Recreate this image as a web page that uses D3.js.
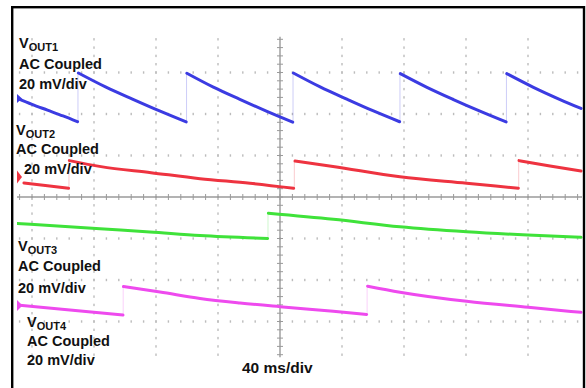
<!DOCTYPE html>
<html>
<head>
<meta charset="utf-8">
<script src="https://cdn.jsdelivr.net/npm/d3@7"></script>
<style>
  html, body { margin: 0; padding: 0; background: #fff; }
  svg { display: block; }
</style>
</head>
<body>
<svg id="chart" width="586" height="388"></svg>
<script>
// Four-channel scope capture: 40 ms/div time base, 20 mV/div AC-coupled outputs.
const timePerDiv = 40;   // ms per division
const voltsPerDiv = 20;  // mV per division
const channelNames = ["OUT1", "OUT2", "OUT3", "OUT4"];
const couplingLabel = "AC Coupled";
const scaleLabel = "20 mV/div";
const timeLabel = "40 ms/div";

// Ground reference of each channel, in divisions from screen centre
const channelPositions = [2.373, 0.482, -0.602, -2.614];

// Ripple samples per ramp: [time ms, ripple mV]
const vout1 = [
  [[-169.7, 0.2], [-160.0, -2.8], [-150.0, -5.6], [-140.0, -8.4], [-130.6, -11.2]],
  [[-130.1, 12.3], [-112.6, 5.6], [-95.2, -0.3], [-77.7, -6.0], [-60.5, -11.3]],
  [[-60.1, 12.2], [-43.0, 5.5], [-25.9, -0.4], [-8.8, -6.1], [8.2, -11.4]],
  [[8.6, 12.3], [25.9, 5.6], [43.1, -0.3], [60.3, -6.0], [77.2, -11.2]],
  [[77.6, 12.0], [94.8, 5.4], [111.9, -0.5], [129.0, -6.1], [145.9, -11.3]],
  [[146.3, 12.0], [163.5, 5.4], [180.7, -0.5], [194.2, -4.8]]
];
const vout2 = [
  [[-165.2, -2.9], [-150.0, -4.2], [-136.4, -5.4]],
  [[-135.9, 7.9], [-115.5, 5.0], [-83.2, 2.1], [-51.6, -0.8], [-19.4, -3.0], [8.8, -5.4]],
  [[9.7, 7.7], [34.2, 5.1], [77.4, 0.1], [120.4, -3.0], [153.8, -5.4]],
  [[154.2, 7.9], [174.2, 5.3], [194.2, 2.9]]
];
const vout3 = [
  [[-169.7, -0.7], [-116.1, -3.3], [-83.9, -4.8], [-51.6, -6.5], [-8.0, -7.9]],
  [[-7.5, 4.2], [34.4, 1.3], [77.4, -2.3], [120.4, -4.7], [159.9, -6.3], [194.2, -7.4]]
];
const vout4 = [
  [[-169.7, 0.2], [-135.5, -2.2], [-101.3, -4.6]],
  [[-101.0, 9.1], [-77.4, 6.5], [-51.6, 3.4], [-25.8, 1.2], [0.0, -0.6], [34.4, -2.8], [55.9, -4.3]],
  [[56.5, 9.3], [77.4, 6.4], [120.4, 2.0], [160.2, -0.9], [194.2, -3.3]]
];

const traces = [vout1, vout2, vout3, vout4];
const traceColors = ["#3b3be2", "#ee3340", "#3fe23a", "#ee4aee"];
const markerSizes = [[5, 4.5], [5, 6.5], null, [5.5, 5.5]];

// Screen geometry
const svg = d3.select("#chart");
const cx = 280, cy = 197, divX = 62, divY = 41.5;
const plotLeft = 17, plotRight = 583, plotTop = 33, plotBottom = 362;

const x = d3.scaleLinear()
  .domain([-5 * timePerDiv, 5 * timePerDiv])
  .range([cx - 5 * divX, cx + 5 * divX]);
const yDiv = d3.scaleLinear()
  .domain([-4, 4])
  .range([cy + 4 * divY, cy - 4 * divY]);

svg.append("rect").attr("width", 586).attr("height", 388).attr("fill", "#fff");

svg.append("defs").append("clipPath").attr("id", "screen")
  .append("rect")
  .attr("x", plotLeft).attr("y", plotTop)
  .attr("width", plotRight - plotLeft).attr("height", plotBottom - plotTop);

const grid = svg.append("g").attr("clip-path", "url(#screen)");
const dotColor = "#bcbcbc";

// Dotted graticule columns
const minorY = d3.range(-19, 20).map(m => m / 5);
const minorX = d3.range(-21, 25).map(j => j * timePerDiv / 5);
d3.range(-4, 5).filter(k => k !== 0).forEach(k => {
  grid.selectAll(null).data(minorY).join("rect")
    .attr("x", x(k * timePerDiv) - 0.7)
    .attr("y", d => yDiv(d) - 1.2)
    .attr("width", 1.4).attr("height", 2.4)
    .attr("fill", dotColor);
});
// Dotted graticule rows
d3.range(-3, 4).filter(k => k !== 0).forEach(k => {
  grid.selectAll(null).data(minorX).join("rect")
    .attr("x", d => x(d) - 0.7)
    .attr("y", yDiv(k) - 1.2)
    .attr("width", 1.4).attr("height", 2.4)
    .attr("fill", dotColor);
});

// Centre axes with minor ticks
const axisColor = "#9a9a9a";
grid.append("line")
  .attr("x1", x(0)).attr("x2", x(0))
  .attr("y1", yDiv(3.86)).attr("y2", yDiv(-3.86))
  .attr("stroke", axisColor).attr("stroke-width", 1.4);
grid.selectAll(null).data(minorY).join("line")
  .attr("x1", x(0) - 3).attr("x2", x(0) + 3)
  .attr("y1", d => yDiv(d)).attr("y2", d => yDiv(d))
  .attr("stroke", axisColor).attr("stroke-width", 1);
grid.append("line")
  .attr("x1", plotLeft).attr("x2", plotRight - 1)
  .attr("y1", yDiv(0)).attr("y2", yDiv(0))
  .attr("stroke", axisColor).attr("stroke-width", 1.4);
grid.selectAll(null).data(minorX).join("line")
  .attr("x1", d => x(d)).attr("x2", d => x(d))
  .attr("y1", yDiv(0) - 3).attr("y2", yDiv(0) + 3)
  .attr("stroke", axisColor).attr("stroke-width", 1);

// Traces
const traceLayer = svg.append("g").attr("clip-path", "url(#screen)");
traces.forEach((segments, ci) => {
  const pos = channelPositions[ci];
  const yOf = mv => yDiv(pos + mv / voltsPerDiv);
  const line = d3.line()
    .x(d => x(d[0]))
    .y(d => yOf(d[1]))
    .curve(d3.curveMonotoneX);
  const g = traceLayer.append("g");
  // faint vertical edges at each step
  segments.slice(1).forEach((seg, i) => {
    const prev = segments[i][segments[i].length - 1];
    const next = seg[0];
    g.append("line")
      .attr("x1", x((prev[0] + next[0]) / 2)).attr("x2", x((prev[0] + next[0]) / 2))
      .attr("y1", yOf(prev[1])).attr("y2", yOf(next[1]))
      .attr("stroke", traceColors[ci]).attr("stroke-width", 1)
      .attr("stroke-opacity", 0.25);
  });
  g.selectAll(null).data(segments).join("path")
    .attr("d", line)
    .attr("fill", "none")
    .attr("stroke", traceColors[ci])
    .attr("stroke-width", 3)
    .attr("stroke-linecap", "round")
    .attr("stroke-linejoin", "round");

  // ground-level marker
  const ms = markerSizes[ci];
  if (ms) {
    const y0 = yDiv(pos);
    g.append("path")
      .attr("d", `M${plotLeft},${y0 - ms[1]}L${plotLeft + ms[0]},${y0}L${plotLeft},${y0 + ms[1]}Z`)
      .attr("fill", traceColors[ci]);
  }
});

// Channel labels
const labelPlacement = [
  { x: 19, name: 48, coupling: 68.5, scaleX: 19, scale: 88.5 },
  { x: 16, name: 135, coupling: 153.5, scaleX: 24, scale: 174 },
  { x: 18, name: 251, coupling: 271, scaleX: 18, scale: 293 },
  { x: 27, name: 327, coupling: 346, scaleX: 27, scale: 365 }
];
const font = "'Liberation Sans', Arial, Helvetica, sans-serif";
const labels = svg.append("g")
  .attr("font-family", font)
  .attr("font-weight", "bold")
  .attr("fill", "#111");

channelNames.forEach((nm, i) => {
  const p = labelPlacement[i];
  const t = labels.append("text").attr("x", p.x).attr("y", p.name).attr("font-size", 14.5);
  t.append("tspan").text("V");
  t.append("tspan").attr("font-size", 11).attr("dy", 3).text(nm);
  labels.append("text").attr("x", p.x).attr("y", p.coupling)
    .attr("font-size", 14.5).text(couplingLabel);
  labels.append("text").attr("x", p.scaleX).attr("y", p.scale)
    .attr("font-size", 14.5).text(scaleLabel);
});

labels.append("text")
  .attr("x", 242).attr("y", 373)
  .attr("font-size", 15.5)
  .text(timeLabel);

// Outer frame
svg.append("rect")
  .attr("x", 12.2).attr("y", 7.2)
  .attr("width", 571.8).attr("height", 420)
  .attr("fill", "none")
  .attr("stroke", "#000")
  .attr("stroke-width", 2.4);
</script>
</body>
</html>
